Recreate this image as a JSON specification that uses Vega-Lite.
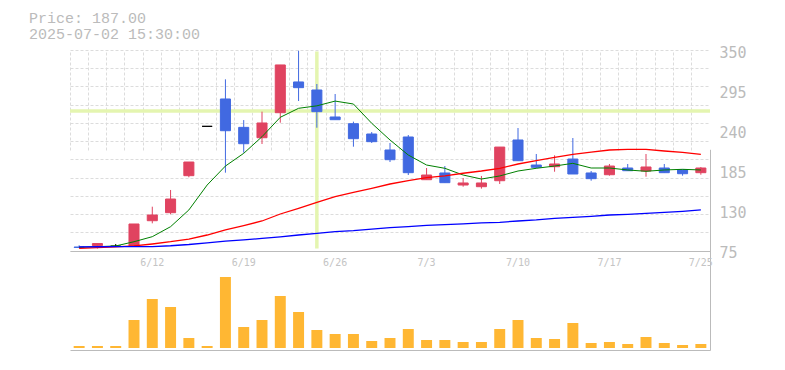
{
  "$schema": "https://vega.github.io/schema/vega-lite/v6.json",
  "width": 640,
  "height": 300,
  "autosize": {"type": "none"},
  "padding": {"left": 70, "top": 50, "right": 75, "bottom": 20},
  "background": "white",
  "title": {
    "text": ["Price: 187.00", "2025-07-02 15:30:00"],
    "anchor": "start",
    "frame": "group",
    "dx": -41,
    "offset": 3,
    "font": "Liberation Mono",
    "fontSize": 15,
    "fontWeight": "normal",
    "color": "#bbbbbb",
    "lineHeight": 16
  },
  "config": {"view": {"stroke": null}, "font": "DejaVu Sans Mono"},
  "data": {
    "values": [
      {"date": "2025-06-06", "open": 80, "high": 82.4, "low": 78.5, "close": 79.5, "volume": 20000, "ma5": 79.5, "ma25": 78.3, "ma75": 80.3},
      {"date": "2025-06-09", "open": 82, "high": 84.8, "low": 78, "close": 84.8, "volume": 20000, "ma5": 80.5, "ma25": 79.3, "ma75": 80.4},
      {"date": "2025-06-10", "open": 81.2, "high": 84.2, "low": 80.5, "close": 81.2, "volume": 20000, "ma5": 81.5, "ma25": 80.3, "ma75": 80.5},
      {"date": "2025-06-11", "open": 81.4, "high": 111.6, "low": 80.5, "close": 111.6, "volume": 280000, "ma5": 87.3, "ma25": 81.6, "ma75": 80.6},
      {"date": "2025-06-12", "open": 116.1, "high": 135.3, "low": 112.5, "close": 123.9, "volume": 490000, "ma5": 94.2, "ma25": 84.2, "ma75": 80.7},
      {"date": "2025-06-13", "open": 127.1, "high": 158.2, "low": 124.9, "close": 145.8, "volume": 410000, "ma5": 107.9, "ma25": 87.3, "ma75": 81.8},
      {"date": "2025-06-16", "open": 177.8, "high": 196.5, "low": 175.6, "close": 196.5, "volume": 100000, "ma5": 130.8, "ma25": 91, "ma75": 83.5},
      {"date": "2025-06-17", "open": 245.4, "high": 245.4, "low": 245.4, "close": 245.4, "volume": 20000, "ma5": 165, "ma25": 96.5, "ma75": 85.8},
      {"date": "2025-06-18", "open": 282.9, "high": 309.8, "low": 181.9, "close": 239.4, "volume": 710000, "ma5": 191, "ma25": 103.4, "ma75": 88},
      {"date": "2025-06-19", "open": 244, "high": 254, "low": 209.3, "close": 221.6, "volume": 210000, "ma5": 208.4, "ma25": 109.3, "ma75": 89.8},
      {"date": "2025-06-20", "open": 229.8, "high": 265.5, "low": 221.2, "close": 250, "volume": 280000, "ma5": 231.2, "ma25": 115.7, "ma75": 91.8},
      {"date": "2025-06-23", "open": 264.1, "high": 329.5, "low": 250.4, "close": 329.5, "volume": 520000, "ma5": 257.8, "ma25": 125.3, "ma75": 93.9},
      {"date": "2025-06-24", "open": 306.2, "high": 349, "low": 280.1, "close": 298.4, "volume": 360000, "ma5": 270.1, "ma25": 133.1, "ma75": 96.5},
      {"date": "2025-06-25", "open": 295.2, "high": 303.4, "low": 243.5, "close": 265.5, "volume": 180000, "ma5": 273.5, "ma25": 141.3, "ma75": 98.8},
      {"date": "2025-06-26", "open": 258.2, "high": 289.7, "low": 254.5, "close": 254.5, "volume": 140000, "ma5": 280, "ma25": 149, "ma75": 101},
      {"date": "2025-06-27", "open": 249, "high": 251.8, "low": 217.5, "close": 228.5, "volume": 140000, "ma5": 276, "ma25": 155, "ma75": 102.4},
      {"date": "2025-06-30", "open": 234.9, "high": 237.6, "low": 222.6, "close": 224.4, "volume": 70000, "ma5": 249.6, "ma25": 160.5, "ma75": 104.7},
      {"date": "2025-07-01", "open": 213, "high": 222.6, "low": 196.5, "close": 199.7, "volume": 100000, "ma5": 226.7, "ma25": 166.4, "ma75": 106.5},
      {"date": "2025-07-02", "open": 230.8, "high": 233.5, "low": 178.7, "close": 181.9, "volume": 190000, "ma5": 206.1, "ma25": 170.9, "ma75": 108},
      {"date": "2025-07-03", "open": 172.3, "high": 188.3, "low": 172.3, "close": 178.7, "volume": 80000, "ma5": 192.4, "ma25": 175, "ma75": 109.8},
      {"date": "2025-07-04", "open": 181.5, "high": 191, "low": 168.2, "close": 168.2, "volume": 80000, "ma5": 187.9, "ma25": 177.4, "ma75": 110.8},
      {"date": "2025-07-07", "open": 165, "high": 174.6, "low": 162.7, "close": 167.8, "volume": 60000, "ma5": 178.7, "ma25": 181.1, "ma75": 111.8},
      {"date": "2025-07-08", "open": 162.7, "high": 177.4, "low": 160, "close": 167.8, "volume": 60000, "ma5": 173.2, "ma25": 184.2, "ma75": 113},
      {"date": "2025-07-09", "open": 170.9, "high": 217, "low": 166.4, "close": 217, "volume": 190000, "ma5": 177.4, "ma25": 187.9, "ma75": 113.9},
      {"date": "2025-07-10", "open": 226.7, "high": 243.1, "low": 198.3, "close": 198.3, "volume": 280000, "ma5": 184.2, "ma25": 193.8, "ma75": 115.7},
      {"date": "2025-07-11", "open": 192.4, "high": 207.5, "low": 187.9, "close": 189.3, "volume": 100000, "ma5": 187.9, "ma25": 198.3, "ma75": 117.1},
      {"date": "2025-07-14", "open": 190.1, "high": 205.7, "low": 183.2, "close": 193.8, "volume": 90000, "ma5": 191, "ma25": 203, "ma75": 119.4},
      {"date": "2025-07-15", "open": 200.6, "high": 229.4, "low": 180.1, "close": 180.1, "volume": 250000, "ma5": 194.7, "ma25": 207.1, "ma75": 120.8},
      {"date": "2025-07-16", "open": 181.5, "high": 184.2, "low": 170.9, "close": 173.7, "volume": 50000, "ma5": 188.3, "ma25": 210.2, "ma75": 122.1},
      {"date": "2025-07-17", "open": 179.1, "high": 193.8, "low": 177.8, "close": 191, "volume": 60000, "ma5": 188.3, "ma25": 213, "ma75": 123.9},
      {"date": "2025-07-18", "open": 188.3, "high": 193.8, "low": 184.6, "close": 184.6, "volume": 40000, "ma5": 185.6, "ma25": 213.9, "ma75": 124.9},
      {"date": "2025-07-22", "open": 184.2, "high": 207.5, "low": 176.4, "close": 189.7, "volume": 110000, "ma5": 183.8, "ma25": 213.9, "ma75": 126.2},
      {"date": "2025-07-23", "open": 188.3, "high": 193.8, "low": 181.9, "close": 181.9, "volume": 50000, "ma5": 185.6, "ma25": 211.6, "ma75": 127.6},
      {"date": "2025-07-24", "open": 186, "high": 186, "low": 177.8, "close": 180.5, "volume": 30000, "ma5": 186.5, "ma25": 209.8, "ma75": 129},
      {"date": "2025-07-25", "open": 181.9, "high": 189.7, "low": 179.1, "close": 188.3, "volume": 40000, "ma5": 185.6, "ma25": 207.1, "ma75": 130.8}
    ]
  },
  "resolve": {
    "scale": {"y": "independent"},
    "axis": {"x": "independent", "y": "independent"}
  },
  "layer": [
    {
      "data": {"values": [{"price": 266.4}]},
      "mark": {"type": "rule", "color": "#e4f5b0", "strokeWidth": 3.5},
      "encoding": {
        "y": {
          "field": "price", "type": "quantitative",
          "scale": {"domain": [75, 350], "range": [200.7, 0], "nice": false, "zero": false},
          "axis": {"orient": "left", "values": [75, 100, 125, 150, 175, 200, 225, 250, 275, 300, 325, 350], "grid": true, "gridColor": "#dcdcdc", "gridDash": [3, 2], "gridWidth": 1, "labels": false, "ticks": false, "domain": false, "title": null}
        }
      }
    },
    {
      "data": {"values": [{"date": "2025-06-25"}]},
      "mark": {"type": "rule", "color": "#e4f5b0", "strokeWidth": 3.5},
      "encoding": {
        "x": {"field": "date", "type": "ordinal", "scale": {"type": "band", "paddingInner": 0, "paddingOuter": 0}, "axis": null},
        "y": {
          "datum": 348, "type": "quantitative",
          "scale": {"domain": [75, 350], "range": [200.7, 0], "nice": false, "zero": false},
          "axis": {"orient": "left", "values": [75], "grid": true, "gridColor": "#bbbbbb", "gridWidth": 1, "labels": false, "ticks": false, "domain": false, "title": null}
        },
        "y2": {"datum": 78}
      }
    },
    {
      "mark": {"type": "bar", "color": "#ffb733", "width": {"band": 0.6}},
      "encoding": {
        "x": {
          "field": "date", "type": "ordinal",
          "axis": {"orient": "bottom", "grid": true, "bandPosition": 0, "gridColor": "#dcdcdc", "gridDash": [3, 2], "gridWidth": 1, "labels": false, "ticks": false, "domain": false, "title": null}
        },
        "y": {
          "field": "volume", "type": "quantitative",
          "scale": {"domain": [0, 1000000], "range": [298, 198], "nice": false},
          "axis": null
        }
      }
    },
    {
      "mark": {"type": "rule", "strokeWidth": 1},
      "encoding": {
        "x": {
          "field": "date", "type": "ordinal",
          "axis": {"orient": "bottom", "offset": -93, "values": ["2025-06-12", "2025-06-19", "2025-06-26", "2025-07-03", "2025-07-10", "2025-07-17", "2025-07-25"], "labelExpr": "toNumber(substring(datum.value,5,7)) + '/' + toNumber(substring(datum.value,8,10))", "grid": false, "ticks": false, "tickSize": 0, "domain": false, "labelPadding": 0, "labelAngle": 0, "labelFont": "DejaVu Sans Mono", "labelFontSize": 10, "labelColor": "#c4c4c4", "title": null}
        },
        "y": {
          "field": "low", "type": "quantitative",
          "scale": {"domain": [75, 350], "range": [200.7, 0], "nice": false, "zero": false},
          "axis": {"orient": "right", "values": [75, 130, 185, 240, 295, 350], "grid": false, "ticks": false, "domain": false, "labelPadding": 9, "labelOffset": 2, "labelFont": "DejaVu Sans Mono", "labelFontSize": 15, "labelColor": "#bbbbbb", "labelBaseline": "middle", "title": null}
        },
        "y2": {"field": "high"},
        "color": {
          "condition": [
            {"test": "datum.close > datum.open", "value": "#e04360"},
            {"test": "datum.close < datum.open", "value": "#4169e1"}
          ],
          "value": "#000000"
        }
      }
    },
    {
      "mark": {"type": "bar", "width": {"band": 0.55}, "strokeWidth": 1},
      "encoding": {
        "x": {
          "field": "date", "type": "ordinal",
          "axis": {"orient": "bottom", "values": ["2025-07-25"], "bandPosition": 1, "grid": true, "gridColor": "#bbbbbb", "gridWidth": 1, "labels": false, "ticks": false, "domain": false, "title": null}
        },
        "y": {
          "field": "open", "type": "quantitative",
          "scale": {"domain": [75, 350], "range": [200.7, 0], "nice": false, "zero": false},
          "axis": null
        },
        "y2": {"field": "close"},
        "fill": {
          "condition": [
            {"test": "datum.close > datum.open", "value": "#e04360"},
            {"test": "datum.close < datum.open", "value": "#4169e1"}
          ],
          "value": "#000000"
        },
        "stroke": {
          "condition": [
            {"test": "datum.close > datum.open", "value": "#e04360"},
            {"test": "datum.close < datum.open", "value": "#4169e1"}
          ],
          "value": "#000000"
        }
      }
    },
    {
      "mark": {"type": "line", "color": "#008000", "strokeWidth": 1},
      "encoding": {
        "x": {
          "field": "date", "type": "ordinal",
          "axis": {"orient": "bottom", "grid": false, "labels": false, "ticks": false, "domain": true, "domainColor": "#bbbbbb", "domainWidth": 1, "title": null}
        },
        "y": {
          "field": "ma5", "type": "quantitative",
          "scale": {"domain": [75, 350], "range": [200.7, 0], "nice": false, "zero": false},
          "axis": null
        }
      }
    },
    {
      "mark": {"type": "line", "color": "#ff0000", "strokeWidth": 1.3},
      "encoding": {
        "x": {"field": "date", "type": "ordinal", "axis": null},
        "y": {
          "field": "ma25", "type": "quantitative",
          "scale": {"domain": [75, 350], "range": [200.7, 0], "nice": false, "zero": false},
          "axis": null
        }
      }
    },
    {
      "mark": {"type": "line", "color": "#0000ff", "strokeWidth": 1.3},
      "encoding": {
        "x": {"field": "date", "type": "ordinal", "axis": null},
        "y": {
          "field": "ma75", "type": "quantitative",
          "scale": {"domain": [75, 350], "range": [200.7, 0], "nice": false, "zero": false},
          "axis": null
        }
      }
    }
  ]
}
